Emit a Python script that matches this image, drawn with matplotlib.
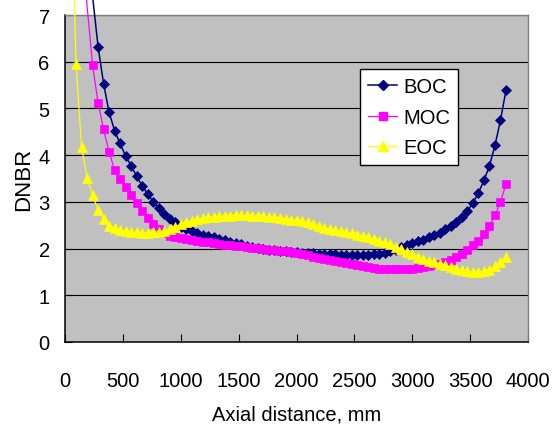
import numpy as np
import matplotlib
matplotlib.use("Agg")
import matplotlib.pyplot as plt
from matplotlib.lines import Line2D

# axial mesh: node index * node pitch (mm)
node_pitch = 47.625

# DNBR, listed from the first plotted node onward
boc_start = 4
boc = [12.0, 7.4, 6.32, 5.53, 4.92, 4.52, 4.25, 3.98, 3.77, 3.55, 3.34, 3.17,
       3.00, 2.86, 2.74, 2.64, 2.56, 2.47,
       2.42, 2.38, 2.34, 2.30, 2.27, 2.24, 2.21, 2.18, 2.15, 2.12, 2.09, 2.06,
       2.03, 2.01, 1.99, 1.97, 1.96, 1.95, 1.94, 1.93, 1.92, 1.91, 1.90, 1.90,
       1.89, 1.89, 1.88, 1.88, 1.87, 1.87, 1.87, 1.87, 1.87, 1.87, 1.88,
       1.89, 1.91, 1.94, 1.98, 2.03, 2.08, 2.12, 2.16, 2.19, 2.24, 2.29, 2.34,
       2.41, 2.49, 2.57, 2.67, 2.80, 2.98, 3.19, 3.46, 3.77, 4.21, 4.75, 5.39]

moc_start = 3
moc = [8.5, 7.2, 5.93, 5.12, 4.55, 4.07, 3.68, 3.48, 3.31, 3.14, 2.98, 2.81,
       2.66, 2.52, 2.41, 2.33, 2.27, 2.24, 2.22,
       2.20, 2.18, 2.16, 2.14, 2.13, 2.11, 2.09, 2.08, 2.07, 2.06, 2.05, 2.03,
       2.02, 2.01, 2.00, 1.98, 1.97, 1.95, 1.94, 1.92, 1.90, 1.88, 1.86, 1.83,
       1.80, 1.78, 1.75, 1.73, 1.71, 1.69, 1.67, 1.65, 1.63, 1.61, 1.59, 1.57,
       1.56, 1.56, 1.56, 1.56, 1.56, 1.57, 1.58, 1.60, 1.62, 1.65, 1.68, 1.71,
       1.76, 1.81, 1.88, 1.98, 2.07, 2.17, 2.31, 2.49, 2.71, 3.00, 3.38]

eoc_start = 1
eoc = [10.4, 5.95, 4.18, 3.52, 3.14, 2.83, 2.64, 2.49, 2.43, 2.40, 2.38, 2.36,
       2.35, 2.34, 2.34, 2.35, 2.36, 2.38, 2.42, 2.47, 2.52, 2.56, 2.60, 2.63,
       2.65, 2.67, 2.68, 2.69, 2.70, 2.70, 2.71, 2.71, 2.71, 2.70, 2.70, 2.69,
       2.68, 2.67, 2.66, 2.64, 2.62, 2.61, 2.59, 2.56, 2.52, 2.48, 2.45, 2.42,
       2.39, 2.37, 2.35, 2.33, 2.30, 2.27, 2.24, 2.21, 2.17, 2.13, 2.09, 2.04,
       1.99, 1.93, 1.88, 1.83, 1.78, 1.74, 1.71, 1.67, 1.64, 1.60, 1.57, 1.54,
       1.51, 1.50, 1.50, 1.52, 1.55, 1.62, 1.72, 1.83]

x_ticks = [0, 500, 1000, 1500, 2000, 2500, 3000, 3500, 4000]
y_ticks = [0, 1, 2, 3, 4, 5, 6, 7]

plt.rcParams["font.family"] = ["Liberation Sans", "DejaVu Sans"]
fs = 14.5

fig = plt.figure(figsize=(5.56, 4.27), dpi=100)
ax = fig.add_axes([65 / 556, 1 - 343 / 427, 463 / 556, 327 / 427])
ax.set_facecolor("#c0c0c0")

series = [
    ("BOC", boc_start, boc, "#000080", "D", 4.6, 1.1),
    ("MOC", moc_start, moc, "#ff00ff", "s", 5.6, 0.9),
    ("EOC", eoc_start, eoc, "#ffff00", "^", 6.6, 0.9),
]
handles = []
for k, (name, start, vals, color, marker, ms, lw) in enumerate(series):
    x = (np.arange(len(vals)) + start) * node_pitch
    # lines run past the top of the plot like the original, markers stay inside
    ax.plot(x, vals, color=color, lw=lw, clip_on=False, zorder=3 + k)
    ax.plot(x, vals, ls="none", marker=marker, ms=ms, color=color,
            mec=color, mew=0.5, zorder=3 + k)
    handles.append(Line2D([], [], color=color, lw=lw, marker=marker, ms=ms))

ax.set_xlim(0, 4000)
ax.set_ylim(0, 7)
ax.set_xticks(x_ticks)
ax.set_yticks(y_ticks)
ax.yaxis.grid(True, color="black", lw=0.8)
ax.set_axisbelow(True)

for side in ("left", "bottom"):
    ax.spines[side].set_color("black")
    ax.spines[side].set_linewidth(1.1)
for side in ("top", "right"):
    ax.spines[side].set_color("#808080")
    ax.spines[side].set_linewidth(1.0)

ax.tick_params(axis="both", direction="in", length=5.5, width=0.8,
               labelsize=fs, colors="black")
ax.tick_params(axis="x", pad=21)
ax.tick_params(axis="y", pad=11, length=5)

ax.set_xlabel("Axial distance, mm", fontsize=fs, labelpad=10)
ax.set_ylabel("DNBR", fontsize=16, labelpad=3)

leg = ax.legend(handles, ["BOC", "MOC", "EOC"], loc="upper left",
                bbox_to_anchor=((360 - 65) / 463, 1 - (70 - 16) / 327),
                fontsize=fs, frameon=True, fancybox=False, framealpha=1,
                edgecolor="black", numpoints=1, handlelength=1.45,
                handletextpad=0.3, labelspacing=0.58, borderpad=0.4,
                borderaxespad=0)
leg.get_frame().set_linewidth(1.0)
leg.set_zorder(10)

fig.savefig("out.png", dpi=100, facecolor="white")
